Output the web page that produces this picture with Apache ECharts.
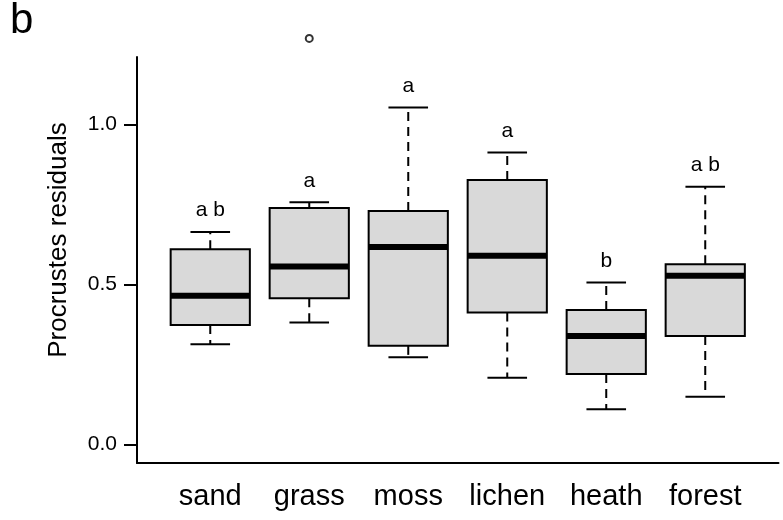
<!DOCTYPE html>
<html>
<head>
<meta charset="utf-8">
<script src="https://cdn.jsdelivr.net/npm/echarts@6/dist/echarts.min.js"></script>
<style>
html,body{margin:0;padding:0;background:#fff;}
#chart{width:783px;height:520px;}
</style>
</head>
<body>
<div id="chart"></div>
<script>
// ---- data ----
const categories = ['sand', 'grass', 'moss', 'lichen', 'heath', 'forest'];
const lowerWhisker = [0.313, 0.381, 0.272, 0.208, 0.110, 0.149];
const q1 = [0.373, 0.457, 0.308, 0.412, 0.220, 0.339];
const medians = [0.465, 0.556, 0.617, 0.590, 0.339, 0.527];
const q3 = [0.610, 0.739, 0.730, 0.827, 0.420, 0.563];
const upperWhisker = [0.664, 0.757, 1.054, 0.913, 0.506, 0.806];
const outlierCategory = ['grass'];
const outlierValue = [1.270];
const groupLetters = ['a b', 'a', 'a', 'a', 'b', 'a b'];
const yTicks = [0.0, 0.5, 1.0];
const yTickLabels = ['0.0', '0.5', '1.0'];
const yTitle = 'Procrustes residuals';
const panelLabel = 'b';

const FONT = '"Liberation Sans", Arial, Helvetica, sans-serif';
const xPositions = categories.map((c, i) => i + 1);

const boxData = categories.map((c, i) => [
  xPositions[i], lowerWhisker[i], q1[i], medians[i], q3[i], upperWhisker[i], i
]);
const outlierData = outlierCategory.map((c, k) => [categories.indexOf(c) + 1, outlierValue[k]]);

const chart = echarts.init(document.getElementById('chart'), null, {renderer: 'canvas'});

function renderBox(params, api) {
  const x = api.value(0);
  const lo = api.coord([x, api.value(1)]);
  const b1 = api.coord([x, api.value(2)]);
  const md = api.coord([x, api.value(3)]);
  const b3 = api.coord([x, api.value(4)]);
  const hi = api.coord([x, api.value(5)]);
  const idx = api.value(6);
  const cx = lo[0];
  const halfBox = api.size([0.4, 0])[0];
  const halfCap = api.size([0.2, 0])[0];
  const dash = {stroke: '#000', lineWidth: 2, lineDash: [9, 6], fill: null};
  const solid = {stroke: '#000', lineWidth: 2, fill: null};
  return {
    type: 'group',
    children: [
      {type: 'line', shape: {x1: cx, y1: b3[1], x2: cx, y2: hi[1]}, style: dash},
      {type: 'line', shape: {x1: cx, y1: b1[1], x2: cx, y2: lo[1]}, style: dash},
      {type: 'line', shape: {x1: cx - halfCap, y1: hi[1], x2: cx + halfCap, y2: hi[1]}, style: solid},
      {type: 'line', shape: {x1: cx - halfCap, y1: lo[1], x2: cx + halfCap, y2: lo[1]}, style: solid},
      {type: 'rect', shape: {x: cx - halfBox, y: b3[1], width: 2 * halfBox, height: b1[1] - b3[1]},
        style: {fill: '#d9d9d9', stroke: '#000', lineWidth: 2}},
      {type: 'line', shape: {x1: cx - halfBox, y1: md[1], x2: cx + halfBox, y2: md[1]},
        style: {stroke: '#000', lineWidth: 6, lineCap: 'butt'}},
      {type: 'text', style: {text: groupLetters[idx], x: cx, y: hi[1] - 11,
        align: 'center', verticalAlign: 'bottom', font: '21px ' + FONT, fill: '#000'}}
    ]
  };
}

const option = {
  animation: false,
  backgroundColor: '#fff',
  grid: {left: 137, right: 4.5, top: 57, bottom: 57},
  xAxis: {
    type: 'value', min: 0.26, max: 6.74,
    splitLine: {show: false},
    axisLine: {show: true, onZero: false, lineStyle: {color: '#000', width: 2}},
    axisTick: {show: false},
    axisLabel: {
      customValues: xPositions,
      formatter: v => categories[Math.round(v) - 1] || '',
      color: '#000', fontSize: 29, fontFamily: FONT, margin: 19
    }
  },
  yAxis: {
    type: 'value', min: -0.0585, max: 1.2118,
    splitLine: {show: false},
    axisLine: {show: true, onZero: false, lineStyle: {color: '#000', width: 2}},
    axisTick: {show: true, customValues: yTicks, length: 13, lineStyle: {color: '#000', width: 2}},
    axisLabel: {
      customValues: yTicks,
      formatter: v => yTickLabels[yTicks.findIndex(t => Math.abs(t - v) < 1e-6)] || '',
      color: '#000', fontSize: 21, fontFamily: FONT, margin: 20
    }
  },
  graphic: [
    {type: 'text', x: 59, y: 240, rotation: Math.PI / 2,
      style: {text: yTitle, align: 'center', verticalAlign: 'middle', font: '26px ' + FONT, fill: '#000'}},
    {type: 'text', x: 10, y: 21.5,
      style: {text: panelLabel, align: 'left', verticalAlign: 'middle', font: '42px ' + FONT, fill: '#000'}}
  ],
  series: [
    {
      type: 'custom', clip: false, silent: true,
      renderItem: renderBox,
      encode: {x: 0, y: [1, 2, 3, 4, 5]},
      data: boxData
    },
    {
      type: 'scatter', clip: false, silent: true,
      symbol: 'emptyCircle', symbolSize: 7,
      itemStyle: {color: '#000', borderColor: '#000', borderWidth: 1.5},
      data: outlierData
    }
  ]
};
chart.setOption(option);
</script>
</body>
</html>
